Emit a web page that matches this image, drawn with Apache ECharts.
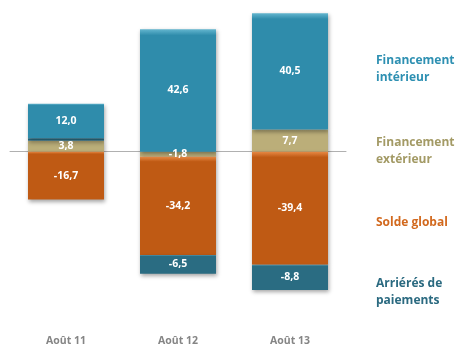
<!DOCTYPE html>
<html>
<head>
<meta charset="utf-8">
<script src="https://cdn.jsdelivr.net/npm/echarts@6/dist/echarts.min.js"></script>
<style>
  html, body { margin: 0; padding: 0; background: #ffffff; }
  #chart { width: 459px; height: 351px; }
</style>
</head>
<body>
<div id="chart"></div>
<script>
// Financement du solde global (en milliards)
const categories = ['Août 11', 'Août 12', 'Août 13'];
const financementExterieur = [3.8, -1.8, 7.7];
const soldeGlobal = [-16.7, -34.2, -39.4];
const arrieresPaiements = [0.9, -6.5, -8.8];
const financementInterieur = [12.0, 42.6, 40.5];

const FONT = '"Open Sans", Lato, sans-serif';

function bevel(light, base) {
  return new echarts.graphic.LinearGradient(0, 0, 0, 1, [
    { offset: 0, color: light },
    { offset: 0.05, color: base },
    { offset: 1, color: base }
  ]);
}

function fmt(p) {
  if (Math.abs(p.value) < 1.5) return '';
  return p.value.toFixed(1).replace('.', ',');
}

function barSeries(name, data, light, base) {
  return {
    name: name,
    type: 'bar',
    stack: 'total',
    barWidth: 76,
    z: 5,
    data: data,
    itemStyle: {
      color: bevel(light, base),
      shadowColor: 'rgba(0,0,0,0.35)',
      shadowBlur: 4,
      shadowOffsetX: 1,
      shadowOffsetY: 2
    },
    label: {
      show: true,
      position: 'inside',
      color: '#ffffff',
      fontFamily: FONT,
      fontWeight: 'bold',
      fontSize: 10.5,
      formatter: fmt
    }
  };
}

function legendText(lines, y, color) {
  return {
    type: 'text',
    left: 376,
    top: y,
    style: {
      text: lines,
      fill: color,
      font: 'bold 12px ' + FONT,
      lineHeight: 17
    }
  };
}

const chart = echarts.init(document.getElementById('chart'));
chart.setOption({
  animation: false,
  grid: { left: 10, right: 113, top: 8, bottom: 27 },
  xAxis: [
    {
      type: 'category',
      data: categories,
      position: 'bottom',
      axisLine: { show: false, onZero: false },
      axisTick: { show: false },
      axisLabel: {
        margin: 12,
        color: '#858585',
        fontFamily: FONT,
        fontWeight: 'bold',
        fontSize: 10.5
      }
    },
    {
      type: 'category',
      data: categories,
      z: 0,
      axisLine: { show: true, onZero: true, lineStyle: { color: '#b0b0b0', width: 1 } },
      axisTick: { show: false },
      axisLabel: { show: false }
    }
  ],
  yAxis: {
    type: 'value',
    min: -60,
    max: 50,
    show: false
  },
  series: [
    barSeries('Financement extérieur', financementExterieur, '#ddd4a6', '#bbae79'),
    barSeries('Solde global', soldeGlobal, '#e88a45', '#bf5a14'),
    barSeries('Arriérés de paiements', arrieresPaiements, '#5c9eb4', '#2a6c82'),
    barSeries('Financement intérieur', financementInterieur, '#64b6cf', '#2f8cab')
  ],
  graphic: [
    legendText('Financement\nintérieur', 52, '#2e90b2'),
    legendText('Financement\nextérieur', 134, '#a39a65'),
    legendText('Solde global', 214, '#d2691e'),
    legendText('Arriérés de\npaiements', 275, '#2b6a80')
  ]
});
</script>
</body>
</html>
